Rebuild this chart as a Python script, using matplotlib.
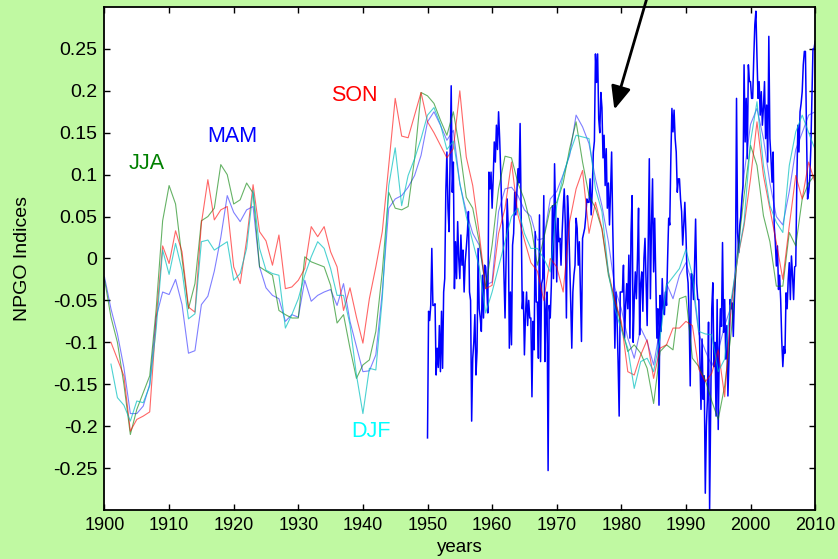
import numpy as np
import matplotlib
matplotlib.use('Agg')
import matplotlib.pyplot as plt

plt.rcParams['font.family'] = ['Liberation Sans', 'DejaVu Sans']
plt.rcParams['axes.unicode_minus'] = False

# seasonal NPGO indices, one value per year 1900..2010
years = np.arange(1900, 2011)

mam = [-0.022, -0.06, -0.09, -0.13, -0.185, -0.185, -0.176, -0.15, -0.07, -0.04,
       -0.043, -0.025, -0.055, -0.113, -0.11, -0.055, -0.045, -0.015, 0.025, 0.075,
       0.055, 0.044, 0.058, 0.062, -0.01, -0.035, -0.044, -0.048, -0.075, -0.067,
       -0.07, -0.026, -0.051, -0.044, -0.04, -0.037, -0.056, -0.03, -0.075, -0.105,
       -0.135, -0.134, -0.115, -0.04, 0.06, 0.071, 0.075, 0.085, 0.099, 0.123,
       0.163, 0.175, 0.159, 0.141, 0.153, 0.089, 0.056, 0.03, 0.016, -0.032,
       -0.028, 0.056, 0.083, 0.085, 0.075, 0.058, 0.05, 0.022, 0.024, 0.071,
       0.08, 0.1, 0.123, 0.171, 0.157, 0.137, 0.095, 0.063, 0.02, -0.035,
       -0.06, -0.095, -0.119, -0.083, -0.099, -0.127, -0.083, -0.03, -0.048, -0.02,
       -0.005, -0.03, -0.09, -0.11, -0.128, -0.11, -0.08, -0.057, 0.007, 0.1,
       0.16, 0.179, 0.143, 0.09, 0.05, 0.04, 0.08, 0.13, 0.15, 0.171,
       0.175]

jja = [-0.025, -0.07, -0.1, -0.15, -0.21, -0.18, -0.16, -0.14, -0.06, 0.045,
       0.087, 0.065, 0.0, -0.06, -0.03, 0.045, 0.05, 0.06, 0.112, 0.1,
       0.065, 0.07, 0.09, 0.078, -0.01, -0.015, -0.02, -0.062, -0.067, -0.071,
       -0.071, 0.002, -0.004, -0.007, -0.01, -0.032, -0.077, -0.067, -0.107, -0.143,
       -0.127, -0.121, -0.087, -0.016, 0.079, 0.06, 0.058, 0.062, 0.119, 0.198,
       0.194, 0.185, 0.165, 0.147, 0.175, 0.13, 0.073, 0.06, 0.02, -0.036,
       0.016, 0.083, 0.122, 0.12, 0.09, 0.07, 0.04, -0.008, 0.024, 0.06,
       0.067, 0.09, 0.131, 0.163, 0.115, 0.075, 0.06, 0.035, -0.02, -0.05,
       -0.08, -0.111, -0.103, -0.113, -0.131, -0.173, -0.111, -0.103, -0.109, -0.048,
       -0.045, -0.119, -0.129, -0.145, -0.17, -0.192, -0.152, -0.089, 0.007, 0.075,
       0.135, 0.111, 0.051, 0.02, -0.033, -0.033, 0.031, 0.015, 0.071, 0.09,
       0.1]

son = [np.nan, -0.1, -0.12, -0.14, -0.206, -0.192, -0.188, -0.183, -0.072, 0.015,
       -0.006, 0.033, 0.008, -0.058, -0.064, 0.042, 0.094, 0.046, 0.058, 0.062,
       -0.01, -0.03, 0.022, 0.088, 0.032, 0.021, -0.008, 0.028, -0.036, -0.034,
       -0.026, -0.012, 0.038, 0.026, 0.038, 0.008, -0.01, -0.062, -0.035, -0.07,
       -0.101, -0.048, -0.01, 0.032, 0.111, 0.191, 0.146, 0.144, 0.171, 0.198,
       0.163, 0.15, 0.135, 0.12, 0.131, 0.2, 0.121, 0.087, 0.03, -0.036,
       -0.032, 0.03, 0.06, 0.115, 0.052, 0.022, -0.005, -0.015, -0.05, 0.0,
       -0.01, -0.04, 0.044, 0.083, 0.105, 0.03, 0.067, 0.036, -0.016, -0.05,
       -0.075, -0.135, -0.139, -0.115, -0.097, -0.143, -0.107, -0.103, -0.083, -0.083,
       -0.075, -0.08, -0.132, -0.147, -0.137, -0.109, -0.165, -0.057, 0.0, 0.039,
       0.095, 0.163, 0.099, 0.059, 0.019, -0.025, 0.039, 0.099, 0.071, 0.115,
       0.09]

djf = [np.nan, -0.126, -0.166, -0.175, -0.194, -0.17, -0.172, -0.152, -0.084, 0.01,
       -0.019, 0.018, -0.014, -0.072, -0.066, 0.02, 0.022, 0.01, 0.015, 0.02,
       -0.026, -0.018, 0.012, 0.081, 0.012, -0.014, -0.018, -0.02, -0.083, -0.067,
       -0.048, -0.02, 0.002, 0.02, 0.012, -0.012, -0.044, -0.044, -0.079, -0.139,
       -0.185, -0.131, -0.133, -0.048, 0.087, 0.132, 0.063, 0.099, 0.119, 0.143,
       0.171, 0.18, 0.16, 0.13, 0.14, 0.09, 0.05, 0.02, -0.01, -0.065,
       -0.04, -0.01, 0.02, 0.05, 0.06, 0.03, 0.012, 0.012, 0.0, -0.016,
       0.063, 0.099, 0.125, 0.147, 0.145, 0.143, 0.083, 0.056, -0.016, -0.06,
       -0.085, -0.107, -0.155, -0.123, -0.119, -0.135, -0.095, -0.032, -0.022, -0.012,
       0.011, -0.02, -0.087, -0.09, -0.091, -0.135, -0.12, -0.049, 0.0, 0.043,
       0.139, 0.187, 0.111, 0.063, 0.043, 0.031, 0.111, 0.151, 0.171, 0.15,
       0.13]

# index 1950-2010, six samples per year
idx_1950s = [-0.214, -0.063, -0.074, -0.056, 0.012, -0.056,
             -0.056, -0.054, -0.139, -0.107, -0.13, -0.08,
             -0.135, -0.063, -0.131, -0.04, -0.024, 0.079,
             0.127, 0.06, 0.032, 0.12, 0.206, 0.079,
             0.115, -0.036, 0.02, -0.024, 0.044, 0.0,
             -0.024, 0.028, -0.008, 0.01, -0.04, -0.004,
             0.012, 0.03, 0.056, -0.04, -0.05, -0.194,
             -0.119, -0.1, -0.067, -0.139, -0.111, 0.012,
             -0.06, -0.071, -0.087, -0.02, -0.071, -0.008,
             -0.01, -0.032, -0.065, 0.103, 0.083, 0.103]
idx_1960s = [0.06, 0.095, 0.139, 0.115, 0.159, 0.13,
             0.175, 0.143, 0.103, 0.056, 0.04, -0.02,
             -0.071, 0.0, 0.071, 0.036, -0.107, -0.04,
             -0.103, 0.016, 0.03, 0.079, 0.052, 0.079,
             0.107, 0.09, 0.161, 0.048, -0.06, -0.04,
             -0.115, -0.067, -0.04, -0.08, -0.05, -0.071,
             -0.071, -0.165, -0.075, -0.109, 0.032, -0.052,
             -0.052, -0.119, 0.052, -0.123, -0.03, -0.024,
             0.075, -0.123, -0.063, -0.04, -0.253, -0.056,
             -0.071, -0.032, 0.063, -0.024, 0.113, 0.05]
idx_1970s = [-0.028, 0.048, 0.02, 0.024, -0.008, 0.03,
             0.06, 0.083, 0.04, -0.071, 0.075, 0.048,
             0.0, -0.052, -0.107, -0.04, -0.02, -0.008,
             0.048, 0.036, -0.008, 0.02, -0.04, -0.099,
             0.024, 0.03, 0.036, 0.05, 0.071, 0.067,
             0.067, 0.095, 0.052, 0.08, 0.127, 0.14,
             0.244, 0.21, 0.244, 0.167, 0.15, 0.198,
             0.18, 0.12, 0.147, 0.087, 0.131, 0.06,
             0.09, 0.04, 0.08, 0.127, 0.04, -0.024,
             -0.107, -0.04, -0.07, -0.123, -0.188, -0.04]
idx_1980s = [-0.04, -0.04, -0.008, -0.095, -0.056, -0.03,
             -0.06, 0.004, -0.095, 0.03, 0.075, -0.1,
             -0.05, -0.016, -0.048, 0.0, 0.06, -0.091,
             -0.03, -0.016, -0.063, 0.0, 0.024, -0.03,
             -0.08, 0.02, 0.119, -0.048, 0.04, 0.095,
             -0.016, 0.048, -0.02, -0.095, -0.06, -0.175,
             -0.044, -0.087, -0.024, -0.06, -0.067, -0.04,
             -0.056, 0.0, 0.048, 0.04, 0.12, 0.179,
             0.151, 0.177, 0.143, 0.127, 0.079, 0.095,
             0.095, 0.071, 0.056, 0.016, 0.04, 0.067]
idx_1990s = [0.03, -0.016, -0.029, -0.07, -0.152, -0.018,
             -0.02, -0.049, -0.009, 0.047, -0.03, -0.049,
             -0.049, -0.12, -0.18, -0.096, -0.168, -0.14,
             -0.28, -0.2, -0.168, -0.076, -0.3, -0.184,
             -0.06, -0.029, -0.129, -0.1, -0.188, -0.049,
             -0.204, -0.108, -0.06, -0.081, 0.019, -0.088,
             -0.049, -0.12, -0.08, -0.164, -0.12, -0.049,
             -0.06, -0.053, -0.093, -0.049, -0.02, 0.191,
             0.031, 0.007, 0.039, 0.05, 0.071, 0.087,
             0.231, 0.139, 0.191, 0.119, 0.231, 0.211]
idx_2000s = [0.211, 0.191, 0.191, 0.239, 0.279, 0.295,
             0.24, 0.191, 0.211, 0.171, 0.199, 0.159,
             0.18, 0.211, 0.143, 0.183, 0.115, 0.265,
             0.143, 0.12, 0.091, 0.127, 0.039, 0.02,
             -0.009, 0.015, -0.037, -0.02, -0.049, -0.097,
             -0.129, -0.105, -0.113, -0.041, -0.06, -0.025,
             -0.005, -0.049, 0.003, -0.02, -0.049, -0.01,
             -0.009, 0.091, 0.159, 0.127, 0.175, 0.185,
             0.199, 0.231, 0.247, 0.247, 0.15, 0.071,
             0.079, 0.095, 0.131, 0.191, 0.25, 0.25]
idx_2010 = [0.259]

npgo = np.array(idx_1950s + idx_1960s + idx_1970s + idx_1980s + idx_1990s + idx_2000s + idx_2010)
t_npgo = 1950 + np.arange(len(npgo)) / 6.0

fig = plt.figure(figsize=(8.38, 5.59), dpi=100, facecolor='#c0f9a2')
ax = fig.add_axes([0.1247, 0.0877, 0.848, 0.8998])
ax.set_facecolor('white')

ax.plot(t_npgo, npgo, color='#0000ff', lw=1.1)

ax.plot(years, mam, color='#0000ff', lw=0.8, alpha=0.5)
ax.plot(years, jja, color='#008000', lw=0.8, alpha=0.6)
ax.plot(years, son, color='#ff0000', lw=0.8, alpha=0.6)
ax.plot(years, djf, color='#00bfbf', lw=0.8, alpha=0.7)

ax.text(1906.6, 0.113, 'JJA', color='#008000', fontsize=15.5, ha='center', va='center')
ax.text(1919.8, 0.145, 'MAM', color='#0000ff', fontsize=15.5, ha='center', va='center')
ax.text(1938.7, 0.194, 'SON', color='#ff0000', fontsize=15.5, ha='center', va='center')
ax.text(1941.3, -0.206, 'DJF', color='#00ffff', fontsize=15.5, ha='center', va='center')

ax.annotate('', xy=(1978.8, 0.1745), xytext=(1984.7, 0.33),
            arrowprops=dict(arrowstyle='-|>,head_length=0.7,head_width=0.3',
                            color='k', lw=2, mutation_scale=20),
            annotation_clip=False)

ax.set_xlim(1900, 2010)
ax.set_ylim(-0.3, 0.3)
ax.set_xticks(np.arange(1900, 2011, 10))
ax.set_yticks([-0.25, -0.2, -0.15, -0.1, -0.05, 0, 0.05, 0.1, 0.15, 0.2, 0.25])
ax.set_yticklabels(['-0.25', '-0.2', '-0.15', '-0.1', '-0.05', '0',
                    '0.05', '0.1', '0.15', '0.2', '0.25'])
ax.tick_params(direction='in', top=True, right=True, length=4, width=1, pad=5)
ax.tick_params(axis='x', labelsize=13)
ax.tick_params(axis='y', labelsize=14)
for s in ax.spines.values():
    s.set_linewidth(1.3)

ax.set_xlabel('years', fontsize=13.5, labelpad=4)
ax.set_ylabel('NPGO Indices', fontsize=14, labelpad=16)

fig.savefig('out.png', dpi=100, facecolor=fig.get_facecolor())
